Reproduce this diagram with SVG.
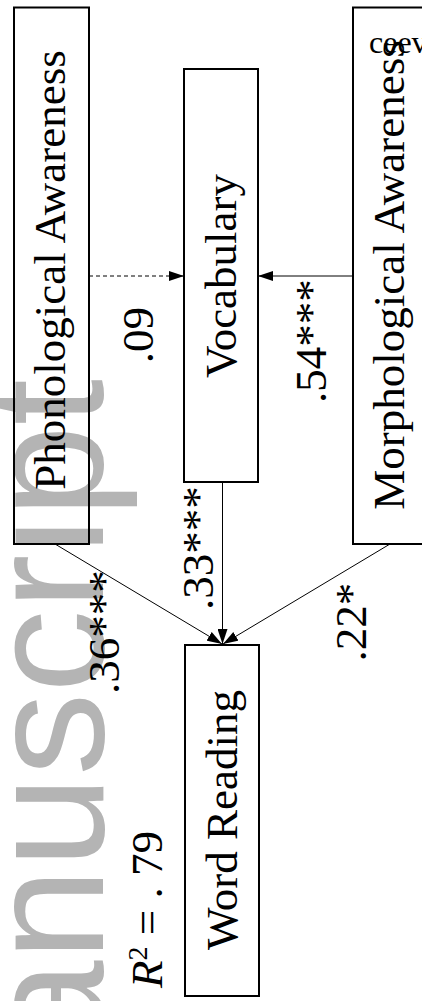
<svg xmlns="http://www.w3.org/2000/svg" width="422" height="1001" viewBox="0 0 422 1001">
<style>
.box{fill:none;stroke:#000;stroke-width:2}
.lbl{font-family:"Liberation Serif","Times New Roman",serif;font-size:45px;fill:#000;text-anchor:middle}
.edge{font-family:"Liberation Serif","Times New Roman",serif;font-size:45px;fill:#000;text-anchor:middle}
.ln{stroke:#000;stroke-width:1;fill:none}
.wm{font-family:"Liberation Sans",Arial,sans-serif;font-size:166px;fill:#b4b4b4}
</style>
<defs>
<marker id="ah" markerUnits="userSpaceOnUse" markerWidth="15" markerHeight="10" refX="15" refY="5" orient="auto">
<path d="M0,0 L15,5 L0,10 z" fill="#000"/>
</marker>
</defs>
<rect width="422" height="1001" fill="#fff"/>
<text class="wm" transform="translate(103,1191) rotate(-90)">manuscript</text>
<g id="connectors">
<line class="ln" x1="89" y1="276" x2="184" y2="276" stroke-dasharray="4,3" marker-end="url(#ah)"/>
<line class="ln" x1="353" y1="276" x2="258" y2="276" marker-end="url(#ah)"/>
<line class="ln" x1="55" y1="544" x2="222" y2="644" marker-end="url(#ah)"/>
<line class="ln" x1="222.5" y1="482" x2="222.5" y2="644" marker-end="url(#ah)"/>
<line class="ln" x1="390" y1="544" x2="223" y2="644" marker-end="url(#ah)"/>
<text class="edge" transform="translate(153,335) rotate(-90)">.09</text>
<text class="edge" transform="translate(326,341) rotate(-90)">.54***</text>
<text class="edge" transform="translate(213,548) rotate(-90)">.33***</text>
<text class="edge" transform="translate(119,632) rotate(-90)">.36***</text>
<text class="edge" transform="translate(366,622) rotate(-90)">.22*</text>
</g>
<g id="phonological">
<rect class="box" x="14" y="7.5" width="75" height="536.5"/>
<text class="lbl" transform="translate(65,270) rotate(-90)">Phonological Awareness</text>
</g>
<g id="vocabulary">
<rect class="box" x="184" y="69" width="74" height="413"/>
<text class="lbl" transform="translate(236,276) rotate(-90)">Vocabulary</text>
</g>
<g id="morphological">
<rect class="box" x="353" y="7.5" width="80" height="536.5"/>
<text class="lbl" transform="translate(404,275) rotate(-90)">Morphological Awareness</text>
</g>
<g id="word-reading">
<rect class="box" x="185" y="645" width="74" height="351"/>
<text class="lbl" transform="translate(237,820) rotate(-90)">Word Reading</text>
</g>
<g id="r2">
<text transform="translate(162,988) rotate(-90)" style="font-family:'Liberation Serif','Times New Roman',serif;font-size:45px;fill:#000"><tspan font-style="italic">R</tspan><tspan font-size="28" dy="-15">2</tspan><tspan dy="15"> = . 79</tspan></text>
</g>
<text x="369" y="53" style="font-family:'Liberation Serif','Times New Roman',serif;font-size:32px;fill:#000">ceev</text>
</svg>
